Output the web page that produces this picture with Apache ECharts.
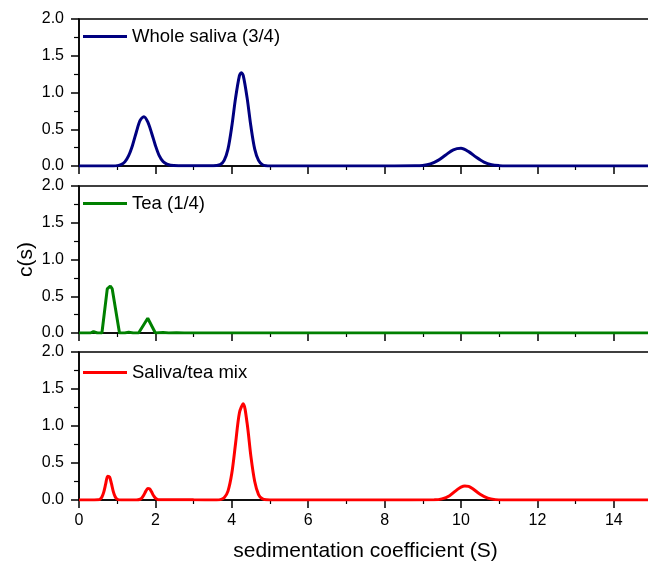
<!DOCTYPE html>
<html>
<head>
<meta charset="utf-8">
<script src="https://cdn.jsdelivr.net/npm/echarts@6/dist/echarts.min.js"></script>
<style>
html,body{margin:0;padding:0;background:#fff;}
#chart{width:648px;height:564px;}
</style>
</head>
<body>
<div id="chart"></div>
<script>
// ---- data ----
const xTicks = [0, 2, 4, 6, 8, 10, 12, 14];
const yTicks = [0.0, 0.5, 1.0, 1.5, 2.0];
const seriesNames = ['Whole saliva (3/4)', 'Tea (1/4)', 'Saliva/tea mix'];

const salivaX = [0, 0.5, 0.9, 1.0, 1.1, 1.2, 1.3, 1.4, 1.5, 1.6, 1.7, 1.8, 1.9, 2.0, 2.1, 2.2, 2.3, 2.4, 2.6, 2.9, 3.2, 3.5, 3.6, 3.7, 3.8, 3.9, 4.0, 4.1, 4.2, 4.25, 4.3, 4.4, 4.5, 4.6, 4.7, 4.8, 4.9, 5.0, 6.0, 8.0, 8.8, 9.0, 9.2, 9.4, 9.6, 9.8, 10.0, 10.2, 10.4, 10.6, 10.8, 11.0, 11.2, 12.0, 15.0];
const salivaY = [0, 0, 0.001, 0.005, 0.018, 0.056, 0.14, 0.28, 0.46, 0.62, 0.67, 0.6, 0.45, 0.28, 0.14, 0.06, 0.025, 0.01, 0.004, 0.003, 0.003, 0.004, 0.006, 0.019, 0.077, 0.23, 0.54, 0.93, 1.23, 1.27, 1.23, 0.93, 0.54, 0.23, 0.077, 0.019, 0.004, 0.001, 0, 0, 0.002, 0.008, 0.029, 0.076, 0.15, 0.22, 0.24, 0.195, 0.118, 0.054, 0.018, 0.005, 0.001, 0, 0];

const teaX = [0, 0.3, 0.38, 0.48, 0.6, 0.74, 0.82, 0.87, 1.06, 1.2, 1.3, 1.42, 1.56, 1.8, 2.0, 2.2, 2.35, 2.55, 2.75, 15.0];
const teaY = [0, 0, 0.02, 0, 0, 0.6, 0.64, 0.6, 0, 0, 0.012, 0, 0, 0.2, 0, 0.006, 0, 0.005, 0, 0];

const mixX = [0, 0.4, 0.5, 0.55, 0.6, 0.65, 0.7, 0.75, 0.8, 0.85, 0.9, 0.95, 1.0, 1.1, 1.5, 1.6, 1.65, 1.7, 1.75, 1.8, 1.85, 1.9, 1.95, 2.0, 2.05, 2.1, 2.5, 3.0, 3.6, 3.7, 3.8, 3.9, 4.0, 4.1, 4.2, 4.3, 4.4, 4.5, 4.6, 4.7, 4.8, 4.9, 5.0, 8.0, 9.3, 9.5, 9.7, 9.9, 10.0, 10.1, 10.2, 10.3, 10.5, 10.7, 10.9, 11.1, 15.0];
const mixY = [0, 0, 0.002, 0.01, 0.04, 0.11, 0.22, 0.32, 0.31, 0.22, 0.11, 0.04, 0.01, 0, 0, 0.01, 0.03, 0.07, 0.12, 0.155, 0.15, 0.11, 0.06, 0.025, 0.008, 0.002, 0.004, 0.002, 0.001, 0.005, 0.03, 0.12, 0.36, 0.77, 1.18, 1.3, 1.04, 0.59, 0.25, 0.074, 0.016, 0.002, 0, 0, 0.002, 0.015, 0.058, 0.14, 0.175, 0.19, 0.185, 0.155, 0.078, 0.025, 0.005, 0, 0];

const colors = ['#000080', '#008000', '#ff0000'];

// ---- build chart ----
function pairs(xs, ys) { return xs.map((x, i) => [x, ys[i]]); }
const seriesData = [pairs(salivaX, salivaY), pairs(teaX, teaY), pairs(mixX, mixY)];

const FONT = 'Liberation Sans, Arial, sans-serif';
const grids = [
  { left: 79, right: -4, top: 19, height: 147 },
  { left: 79, right: -4, top: 186, height: 147 },
  { left: 79, right: -4, top: 352, height: 148 }
].map(g => Object.assign(g, { show: true, borderColor: '#000', borderWidth: 1.5, backgroundColor: 'transparent', containLabel: false, outerBoundsMode: 'none' }));

const xAxes = [0, 1, 2].map(i => ({
  type: 'value', gridIndex: i, min: 0, max: 15, interval: 2,
  axisLine: { show: true, onZero: false, lineStyle: { color: '#000', width: 1.5 } },
  axisTick: { show: true, length: 8, lineStyle: { color: '#000', width: 1.5 } },
  minorTick: { show: true, splitNumber: 2, length: 4, lineStyle: { color: '#000', width: 1.2 } },
  splitLine: { show: false },
  axisLabel: { show: i === 2, color: '#000', fontSize: 16, fontFamily: FONT, margin: 13,
    formatter: v => (xTicks.indexOf(v) >= 0 ? String(v) : '') },
  name: i === 2 ? 'sedimentation coefficient (S)' : '',
  nameLocation: 'middle', nameGap: 41, nameMoveOverlap: false,
  nameTextStyle: { color: '#000', fontSize: 21, fontFamily: FONT }
}));

const yAxes = [0, 1, 2].map(i => ({
  type: 'value', gridIndex: i, min: 0, max: 2, interval: 0.5,
  axisLine: { show: true, lineStyle: { color: '#000', width: 1.5 } },
  axisTick: { show: true, length: 8, lineStyle: { color: '#000', width: 1.5 } },
  minorTick: { show: true, splitNumber: 2, length: 5, lineStyle: { color: '#000', width: 1.2 } },
  splitLine: { show: false },
  axisLabel: { color: '#000', fontSize: 16, fontFamily: FONT, margin: 15,
    formatter: v => { const t = yTicks.find(k => Math.abs(k - v) < 1e-9); return t === undefined ? '' : t.toFixed(1); } },
  name: i === 1 ? 'c(s)' : '',
  nameLocation: 'middle', nameGap: 42, nameRotate: 90, nameMoveOverlap: false,
  nameTextStyle: { color: '#000', fontSize: 21, fontFamily: FONT }
}));

const legendTops = [27, 194, 363];
const legends = [0, 1, 2].map(i => ({
  data: [{ name: seriesNames[i], icon: 'rect' }], left: 83, top: legendTops[i], padding: 0,
  itemWidth: 44, itemHeight: 3, selectedMode: false,
  textStyle: { color: '#000', fontSize: 18.5, fontFamily: FONT }
}));

const series = [0, 1, 2].map(i => ({
  name: seriesNames[i], type: 'line', xAxisIndex: i, yAxisIndex: i,
  data: seriesData[i], showSymbol: false, symbol: 'none',
  smooth: i === 1 ? false : 0.3,
  lineStyle: { color: colors[i], width: 3 }, itemStyle: { color: colors[i] },
  animation: false
}));

const chart = echarts.init(document.getElementById('chart'), null, { renderer: 'canvas' });
chart.setOption({
  animation: false,
  backgroundColor: '#fff',
  grid: grids, xAxis: xAxes, yAxis: yAxes, legend: legends, series: series
});
</script>
</body>
</html>
